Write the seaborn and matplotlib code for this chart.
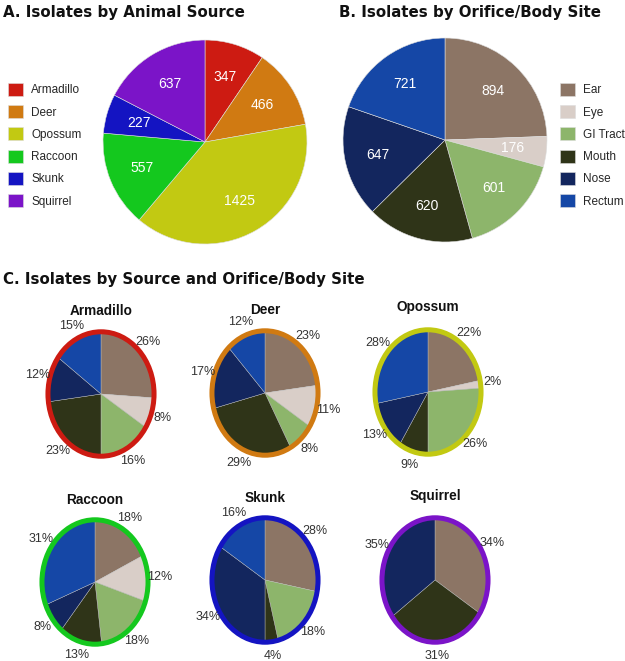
import numpy as np
import pandas as pd
import matplotlib
matplotlib.use("Agg")
import matplotlib.pyplot as plt
import seaborn as sns
from matplotlib.patches import Circle

# -------- Data --------
animals = ["Armadillo", "Deer", "Opossum", "Raccoon", "Skunk", "Squirrel"]
animal_counts = [347, 466, 1425, 557, 227, 637]
animal_colors = ["#CD1B12", "#D07A12", "#C2C912", "#14C81E", "#1414C2", "#7B14C8"]

sites = ["Ear", "Eye", "GI Tract", "Mouth", "Nose", "Rectum"]
site_counts = [894, 176, 601, 620, 647, 721]
site_colors = ["#8C7565", "#D9CEC8", "#8DB56B", "#2F3418", "#13265E", "#1547A6"]

# percent of each site within each animal (Ear, Eye, GI Tract, Mouth, Nose, Rectum)
armadillo_pct = [26, 8, 16, 23, 12, 15]
deer_pct = [23, 11, 8, 29, 17, 12]
opossum_pct = [22, 2, 26, 9, 13, 28]
raccoon_pct = [18, 12, 18, 13, 8, 31]
skunk_pct = [28, 0, 18, 4, 34, 16]
squirrel_pct = [34, 0, 0, 31, 35, 0]
animal_pcts = [armadillo_pct, deer_pct, opossum_pct, raccoon_pct, skunk_pct, squirrel_pct]

# -------- Style --------
sns.set_theme(style="white")
plt.rcParams["font.family"] = ["Liberation Sans", "DejaVu Sans"]
title_font = dict(family=["DejaVu Sans"], fontsize=10.8, fontweight="bold", color="#111111")

W, H = 625, 661
fig = plt.figure(figsize=(W / 100, H / 100), dpi=100)


def px_axes(cx, cy, hw, hh):
    # axes from pixel centre and half sizes (top-left origin)
    return fig.add_axes([(cx - hw) / W, 1 - (cy + hh) / H, 2 * hw / W, 2 * hh / H])


# -------- Panel A & B: big pies --------
fig.text(3 / W, 1 - 13 / H, "A. Isolates by Animal Source", va="center", ha="left", **title_font)
fig.text(470 / W, 1 - 13 / H, "B. Isolates by Orifice/Body Site", va="center", ha="center", **title_font)

for cx, cy, vals, cols, names, lx in [
    (205, 142, animal_counts, animal_colors, animals, 8),
    (445, 140, site_counts, site_colors, sites, 560),
]:
    ax = px_axes(cx, cy, 103, 103)
    wedges, texts = ax.pie(vals, colors=cols, startangle=90, counterclock=False,
                           labels=[str(v) for v in vals], labeldistance=0.67,
                           wedgeprops=dict(edgecolor="#dddddd", linewidth=0.4),
                           textprops=dict(color="white", fontsize=10))
    for t in texts:
        t.set_ha("center")
        t.set_va("center")
    ax.set_xlim(-1.01, 1.01)
    ax.set_ylim(-1.01, 1.01)
    ax.set_aspect("auto")
    fig.legend(wedges, names, loc="upper left",
               bbox_to_anchor=(lx / W, 1 - 83 / H), frameon=False,
               borderpad=0, borderaxespad=0, fontsize=8.5,
               handlelength=1.3, handleheight=1.3, labelspacing=0.75,
               handletextpad=0.65)

# -------- Panel C: small pies --------
fig.text(3 / W, 1 - 280 / H, "C. Isolates by Source and Orifice/Body Site",
         va="center", ha="left", **title_font)

centers = [(101, 394), (265, 393), (428, 392), (95, 582), (265, 580), (435, 580)]
title_y = [311, 310, 307, 500, 498, 496]
scale = 1.7

for name, pct, col, (cx, cy), ty in zip(animals, animal_pcts, animal_colors, centers, title_y):
    fig.text(cx / W, 1 - ty / H, name, fontsize=9.8, fontweight="bold",
             ha="center", va="center", color="#111111")
    ax = px_axes(cx, cy, 52 * scale, 61 * scale)
    keep = [i for i, p in enumerate(pct) if p > 0]
    ax.pie([pct[i] for i in keep], colors=[site_colors[i] for i in keep],
           startangle=90, counterclock=False,
           labels=[f"{pct[i]}%" for i in keep], labeldistance=1.25,
           wedgeprops=dict(edgecolor="#bbbbbb", linewidth=0.3),
           textprops=dict(color="#333333", fontsize=9))
    for t in ax.texts:
        t.set_ha("center")
        t.set_va("center")
    ax.add_patch(Circle((0, 0), 1.02, fill=False, edgecolor=col, linewidth=3.6))
    ax.set_xlim(-scale, scale)
    ax.set_ylim(-scale, scale)
    ax.set_aspect("auto")

fig.savefig("out.png", dpi=100, facecolor="white")
